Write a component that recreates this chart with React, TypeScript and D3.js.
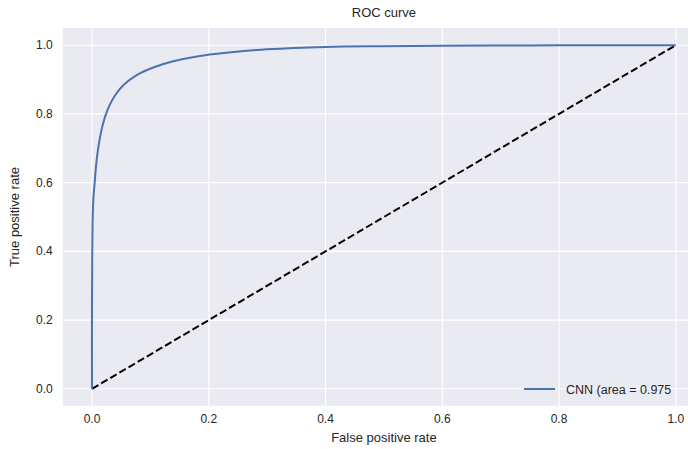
import React from 'react'
import * as d3 from 'd3'

// ROC curve
const fpr = [0, 0, 0.0005, 0.001, 0.002, 0.003, 0.0046, 0.0065, 0.009, 0.0125, 0.0165, 0.022, 0.03, 0.04, 0.054, 0.0765, 0.105, 0.139, 0.182, 0.23, 0.3, 0.4, 0.5, 0.6, 0.7, 0.8, 0.9, 1.0]
const tpr = [0, 0.25, 0.4, 0.48, 0.54, 0.57, 0.6, 0.64, 0.68, 0.72, 0.755, 0.79, 0.825, 0.855, 0.884, 0.913, 0.935, 0.953, 0.968, 0.978, 0.988, 0.995, 0.997, 0.998, 0.999, 0.9995, 1.0, 1.0]
const chance = [0, 1]
const ticks = [0, 0.2, 0.4, 0.6, 0.8, 1.0]
const legendLabel = 'CNN (area = 0.975'

const W = 688, H = 449
const FONT = '"Liberation Sans", Arial, sans-serif'
const TXT = '#262626'

export default function App() {
  const margin = { left: 62.8, top: 28, right: -17, bottom: 43 }
  const x = d3.scaleLinear().domain([-0.05, 1.05]).range([margin.left, W - margin.right])
  const y = d3.scaleLinear().domain([-0.05, 1.05]).range([H - margin.bottom, margin.top])

  const pts: [number, number][] = fpr.map((f, i) => [f, tpr[i]])
  const line = d3.line<[number, number]>()
    .x(d => x(d[0]))
    .y(d => y(d[1]))
    .curve(d3.curveCatmullRom.alpha(0.5))

  const diag = d3.line<number>().x(d => x(d)).y(d => y(d))

  return (
    <div style={{ position: 'absolute', left: 0, top: 0 }}>
      <svg width={W} height={H} style={{ display: 'block', fontFamily: FONT }}>
        <rect x={0} y={0} width={W} height={H} fill="#fff" />
        <rect x={x(-0.05)} y={y(1.05)} width={x(1.05) - x(-0.05)} height={y(-0.05) - y(1.05)} fill="#EAEAF2" />
        {ticks.map(t => (
          <g key={'g' + t}>
            <line x1={x(t)} x2={x(t)} y1={y(1.05)} y2={y(-0.05)} stroke="#fff" strokeWidth={1.1} />
            <line x1={x(-0.05)} x2={x(1.05)} y1={y(t)} y2={y(t)} stroke="#fff" strokeWidth={1.1} />
          </g>
        ))}
        <path d={diag(chance) || ''} fill="none" stroke="#000" strokeWidth={2} strokeDasharray="7.4,3.2" />
        <path d={line(pts) || ''} fill="none" stroke="#4C72B0" strokeWidth={2} strokeLinejoin="round" />

        {ticks.map(t => (
          <text key={'x' + t} x={x(t)} y={y(-0.05) + 17} textAnchor="middle" fontSize={12} fill={TXT}>
            {t.toFixed(1)}
          </text>
        ))}
        {ticks.map(t => (
          <text key={'y' + t} x={x(-0.05) - 10} y={y(t) + 4} textAnchor="end" fontSize={12} fill={TXT}>
            {t.toFixed(1)}
          </text>
        ))}

        <text x={(x(-0.05) + x(1.05)) / 2} y={17} textAnchor="middle" fontSize={13} fill={TXT}>ROC curve</text>
        <text x={(x(-0.05) + x(1.05)) / 2} y={442} textAnchor="middle" fontSize={13} fill={TXT}>False positive rate</text>
        <text transform={`translate(19,${(y(1.05) + y(-0.05)) / 2}) rotate(-90)`} textAnchor="middle" fontSize={13} fill={TXT}>True positive rate</text>

        <line x1={524} x2={555} y1={389} y2={389} stroke="#4C72B0" strokeWidth={2} />
        <text x={566} y={393.5} fontSize={12.5} fill={TXT}>{legendLabel}</text>
      </svg>
    </div>
  )
}
